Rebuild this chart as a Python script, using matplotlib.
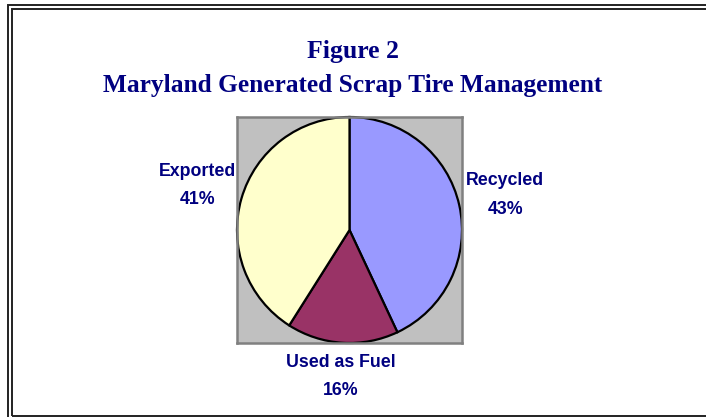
import numpy as np
import matplotlib.pyplot as plt
from matplotlib.patches import Rectangle

# data
categories = ["Recycled", "Used as Fuel", "Exported"]
shares = [43, 16, 41]
slice_colors = ["#9999FF", "#993366", "#FFFFCC"]
label_dist = [1.42, 1.30, 1.41]

W, H = 706, 417
navy = "#000080"

fig = plt.figure(figsize=(W / 100, H / 100), dpi=100)
fig.patch.set_facecolor("white")

# double frame round the chart (runs off the right edge like the original)
for x0, y0, x1, y1 in [(8, 5, 724, 421), (12, 9, 720, 416)]:
    fig.add_artist(Rectangle((x0 / W, 1 - y1 / H), (x1 - x0) / W, (y1 - y0) / H,
                             transform=fig.transFigure, fill=False,
                             edgecolor="#222222", linewidth=1.4))

fig.text(353 / W, 1 - 58 / H, "Figure 2", ha="center", va="baseline",
         family="Liberation Serif", weight="bold", fontsize=18.5, color=navy)
fig.text(353 / W, 1 - 92 / H, "Maryland Generated Scrap Tire Management",
         ha="center", va="baseline", family="Liberation Serif", weight="bold",
         fontsize=18.3, color=navy)

# plot area
ax = fig.add_axes([237 / W, 1 - 343 / H, 225 / W, 226 / H])
ax.set_facecolor("#C0C0C0")
wedges, _ = ax.pie(shares, colors=slice_colors, startangle=90, counterclock=False,
                   radius=1.0, wedgeprops=dict(edgecolor="black", linewidth=1.6))
ax.set_xlim(-1.0, 1.0)
ax.set_ylim(-1.0, 1.0)
ax.set_aspect("auto")
ax.set_xticks([])
ax.set_yticks([])
ax.set_frame_on(True)
for s in ax.spines.values():
    s.set_color("#808080")
    s.set_linewidth(1.8)
    s.set_visible(True)

for w, name, val, d in zip(wedges, categories, shares, label_dist):
    mid = np.deg2rad((w.theta1 + w.theta2) / 2)
    ax.text(d * np.cos(mid), d * np.sin(mid), f"{name}\n{val}%", ha="center",
            va="center", family="Liberation Sans", weight="bold", fontsize=12.8,
            color=navy, linespacing=1.85, clip_on=False)

fig.savefig("out.png", dpi=100)
